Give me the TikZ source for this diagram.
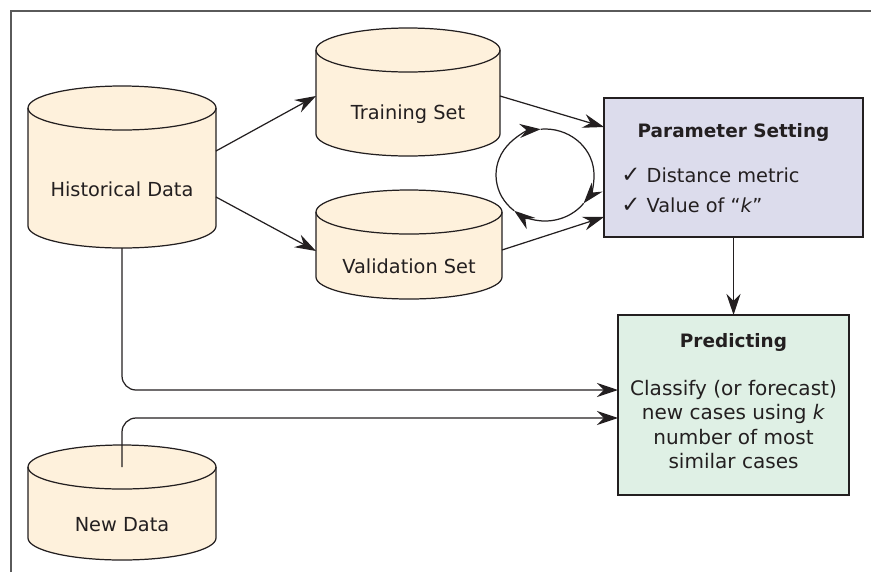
\documentclass[tikz,border=0pt]{standalone}
\usepackage{fontspec}
\setmainfont{DejaVu Sans}
\usetikzlibrary{arrows.meta,shadows}

\definecolor{drumfill}{HTML}{FEF1DC}
\definecolor{paramfill}{HTML}{DCDCEC}
\definecolor{predfill}{HTML}{DFF0E5}
\definecolor{ink}{HTML}{231F20}
\definecolor{framegray}{HTML}{5A5A5A}

\tikzset{
  arr/.style={draw=ink,line width=.7pt,-{Stealth[length=12pt,width=8pt,inset=4pt]}},
  drumline/.style={draw=ink,line width=.7pt},
  drumtext/.style={inner sep=0pt,outer sep=0pt,text=ink},
  box/.style={draw=ink,line width=.8pt,inner sep=0pt,outer sep=0pt,
    drop shadow={shadow xshift=.7pt,shadow yshift=-.7pt,fill=black!60,opacity=1}},
  head/.style={font=\fontsize{10.5}{13}\selectfont\bfseries,text=ink,inner sep=0pt},
}

% data store: name, centre x, top y, bottom y, half width, text (y in px, downward)
\newcommand{\drum}[6]{%
  \filldraw[drumline,fill=drumfill] (#2-#5,-#3) -- (#2-#5,-#4)
    arc[start angle=180,end angle=360,x radius=#5,y radius=22] -- (#2+#5,-#3)
    arc[start angle=0,end angle=180,x radius=#5,y radius=22] -- cycle;
  \draw[drumline] (#2-#5,-#3) arc[start angle=180,end angle=360,x radius=#5,y radius=22];
  \node[drumtext,minimum width={#5*0.04cm},minimum height={(#4-#3)*0.02cm}] (#1) at (#2,{-(#3+#4)/2-22}) {#6};
}
\newcommand{\tick}{{\fontsize{13}{13}\selectfont ✓}}

\begin{document}
\begin{tikzpicture}[x=0.02cm,y=0.02cm,font=\fontsize{11}{13}\selectfont,text=ink]
\useasboundingbox (0,0) rectangle (871,-572);
% frame
\draw[draw=framegray,line width=1.2pt] (11,-572) -- (11,-11) -- (871,-11);

% data stores
\drum{hist}{122}{108}{226}{94}{Historical Data}
\drum{train}{408}{50}{134}{92}{Training Set}
\drum{valid}{409}{212}{277}{93}{Validation Set}
\drum{newd}{122}{467}{538}{94}{New Data}

% boxes
\node[box,fill=paramfill,minimum width=5.18cm,minimum height=2.78cm] (param) at (733.5,-167.5) {};
\node[head] (paramhead) at ([yshift=-.68cm]param.north) {Parameter Setting};
\node[anchor=west,align=left,inner sep=0pt,font=\fontsize{11}{17}\selectfont] (paramlist)
  at ([xshift=.34cm,yshift=-.45cm]param.west) {\tick\ Distance metric\\\tick\ Value of “\textit{k}”};

\node[box,fill=predfill,minimum width=4.62cm,minimum height=3.6cm] (pred) at (733.5,-405) {};
\node[head] (predhead) at ([yshift=-.54cm]pred.north) {Predicting};
\node[align=center,inner sep=0pt,font=\fontsize{11.4}{14}\selectfont] (predtext)
  at ([yshift=-.39cm]pred.center) {Classify (or forecast)\\new cases using \textit{k}\\number of most\\similar cases};

% connectors
\draw[arr] ([yshift=.76cm]hist.east) -- ([yshift=.36cm]train.west);
\draw[arr] ([yshift=-.16cm]hist.east) -- ([yshift=.31cm]valid.west);
\draw[arr] ([yshift=.36cm]train.east) -- ([yshift=.81cm]param.west);
\draw[arr] ([yshift=.33cm]valid.east) -- ([yshift=-.99cm]param.west);
\draw[arr] (param.south) -- (pred.north);
\draw[arr,rounded corners=8pt] (hist.south) |- ([yshift=.3cm]pred.west);
\draw[arr,rounded corners=8pt] ([yshift=.44cm]newd.north) |- ([yshift=-.26cm]pred.west);

% tuning loop
\coordinate (loop) at (545,-175);
\draw[arr] ([shift={(231:49 and 46)}]loop) arc[start angle=231,end angle=95,x radius=49,y radius=46];
\draw[arr] ([shift={(95:49 and 46)}]loop) arc[start angle=95,end angle=-38,x radius=49,y radius=46];
\draw[arr] ([shift={(-38:49 and 46)}]loop) arc[start angle=-38,end angle=-129,x radius=49,y radius=46];
\end{tikzpicture}
\end{document}
